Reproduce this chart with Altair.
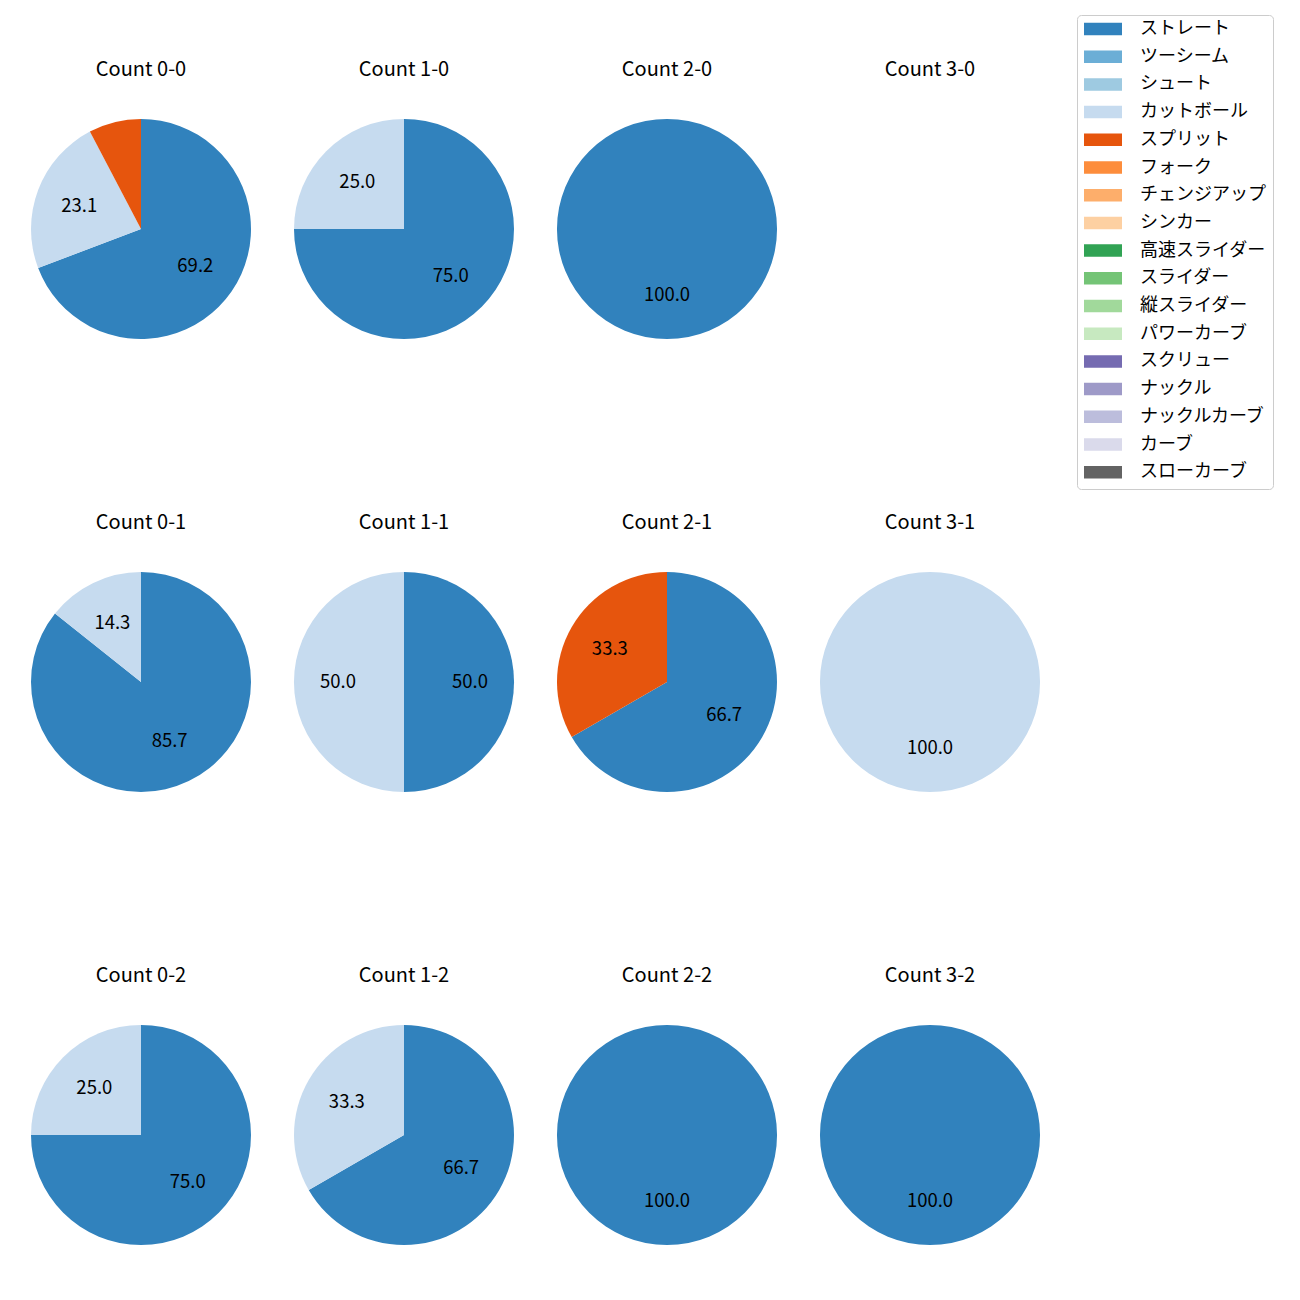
import altair as alt
import pandas as pd

# ---- data ----
panel_counts = ["0-0", "1-0", "2-0", "3-0",
                "0-1", "1-1", "2-1", "3-1",
                "0-2", "1-2", "2-2", "3-2"]
straight = [9, 3, 1, 0, 6, 1, 2, 0, 3, 2, 1, 1]
cutter = [3, 1, 0, 0, 1, 1, 0, 1, 1, 1, 0, 0]
split = [1, 0, 0, 0, 0, 0, 1, 0, 0, 0, 0, 0]

pitch_types = ["ストレート", "ツーシーム", "シュート", "カットボール", "スプリット",
               "フォーク", "チェンジアップ", "シンカー", "高速スライダー", "スライダー",
               "縦スライダー", "パワーカーブ", "スクリュー", "ナックル", "ナックルカーブ",
               "カーブ", "スローカーブ"]
pitch_colors = ["#3182bd", "#6baed6", "#9ecae1", "#c6dbef", "#e6550d",
                "#fd8d3c", "#fdae6b", "#fdd0a2", "#31a354", "#74c476",
                "#a1d99b", "#c7e9c0", "#756bb1", "#9e9ac8", "#bcbddc",
                "#dadaeb", "#636363"]

series = {"ストレート": straight, "カットボール": cutter, "スプリット": split}

rows = []
for i, c in enumerate(panel_counts):
    total = sum(series[p][i] for p in series)
    for p, vals in series.items():
        n = vals[i]
        if n > 0:
            pct = 100.0 * n / total
            rows.append({
                "count": c,
                "pitch": p,
                "idx": pitch_types.index(p),
                "n": n,
                "label": f"{pct:.1f}" if pct >= 10 else "",
            })
df = pd.DataFrame(rows)

FONT = "Noto Sans CJK JP"
SIZE = 220


def panel(c):
    base = alt.Chart(df).transform_filter(alt.datum["count"] == c)
    theta = alt.Theta("n:Q", stack=True)
    arc = base.mark_arc().encode(
        theta=theta,
        color=alt.Color("pitch:N",
                        scale=alt.Scale(domain=pitch_types, range=pitch_colors),
                        legend=alt.Legend(title=None)),
        order=alt.Order("idx:Q", sort="ascending"),
    )
    txt = base.mark_text(radius=66, fontSize=18.5, font=FONT, color="black").encode(
        theta=theta,
        text="label:N",
        order=alt.Order("idx:Q", sort="ascending"),
    )
    return alt.layer(arc, txt).properties(
        width=SIZE, height=SIZE,
        title=alt.TitleParams(f"Count {c}", fontSize=20, font=FONT,
                              fontWeight="normal", offset=19, anchor="middle",
                              baseline="bottom", color="black"),
    )


grid = alt.vconcat(*[
    alt.hconcat(*[panel(panel_counts[r * 4 + k]) for k in range(4)], spacing=43)
    for r in range(3)
], spacing=174)

chart = grid.properties(
    padding={"left": 23, "top": 6, "right": 10, "bottom": 10},
).configure_view(stroke=None).configure_legend(
    orient="none",
    legendX=1046,
    legendY=-104,
    labelFont=FONT,
    labelFontSize=18,
    labelColor="black",
    symbolType="M-1,-0.33L1,-0.33L1,0.33L-1,0.33Z",
    symbolSize=1444,
    symbolStrokeWidth=0,
    clipHeight=14,
    rowPadding=9.7,
    labelOffset=18,
    padding=7,
    strokeColor="#cccccc",
    cornerRadius=4,
    fillColor="white",
)

chart.save("out.html", embed_options={"renderer": "svg", "actions": False})
